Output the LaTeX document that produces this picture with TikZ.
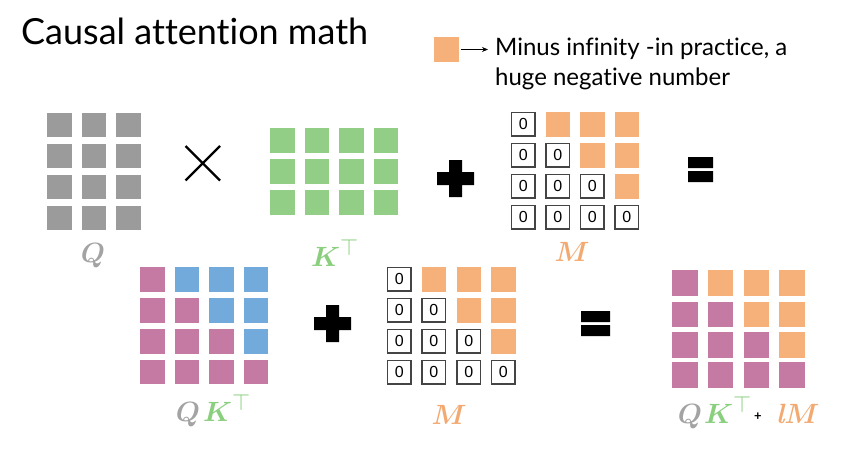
\documentclass[tikz,border=0pt]{standalone}
\usepackage{amsmath,bm,graphicx}
\usepackage[no-math]{fontspec}
\setmainfont{Lato}[Ligatures=NoCommon]
\newfontfamily\zerofont{Liberation Sans}
\newfontfamily\lmfont{Latin Modern Roman}
\usetikzlibrary{arrows.meta}
\definecolor{qgray}{HTML}{9B9B9B}
\definecolor{kgreen}{HTML}{93CE86}
\definecolor{morange}{HTML}{F6B07A}
\definecolor{ppink}{HTML}{C47AA2}
\definecolor{pblue}{HTML}{72AADB}
\definecolor{qlab}{HTML}{A3A3A3}
\definecolor{klab}{HTML}{8ACF7E}
\definecolor{mlab}{HTML}{F3AA72}
\definecolor{zgray}{HTML}{444444}
\newcommand{\mylab}[1]{\scalebox{1.12}{#1}}
\begin{document}
\begin{tikzpicture}[x=1pt,y=-1pt,
  cell/.style={anchor=north west, minimum size=24.5pt, inner sep=0pt, outer sep=0pt},
  rcell/.style={anchor=north west, minimum size=25.5pt, inner sep=0pt, outer sep=0pt},
  zbox/.style={anchor=north west, minimum size=23.5pt, inner sep=0pt, outer sep=0pt,
     draw=zgray, line width=1.1pt, fill=white, font=\zerofont\fontsize{16}{16}\selectfont},
  lab/.style={inner sep=0pt, anchor=base, font=\fontsize{24.88}{28}\selectfont},
  txt/.style={inner sep=0pt, anchor=base west, font=\fontsize{24}{28}\selectfont}]
\useasboundingbox (0,0) rectangle (861,452);
\fill[white] (0,0) rectangle (861,452);
% title
\node[inner sep=0pt, anchor=base west, font=\fontsize{36}{40}\selectfont] (title) at (21,45) {Causal attention math};
% legend
\node[cell, fill=morange, minimum size=25pt] (leg) at (434,37) {};
\node[txt] (leg1) at (495,56) {Minus infinity -in practice, a};
\node[txt] (leg2) at (495,85) {huge negative number};
\draw[-{Stealth[length=6pt,width=5pt]}, line width=0.9pt, shorten <=1.5pt, shorten >=7pt] (leg.east) -- (leg.east -| leg1.west);
% Q
\foreach \r/\y in {1/112.5,2/143.5,3/174.5,4/205.5}
  \foreach \c/\x in {1/47,2/81.5,3/116}
    \node[cell, fill=qgray] (q-\r-\c) at (\x,\y) {};
\node[lab, text=qlab] (qlabel) at (93,262) {\mylab{$\bm{Q}$}};
% times
\draw[line width=2.4pt] (185.5,146) -- (220,180.5) (185.5,180.5) -- (220,146);
% K^T
\foreach \r/\y in {1/128,2/159,3/190}
  \foreach \c/\x in {1/270,2/304.5,3/339,4/373.5}
    \node[cell, fill=kgreen] (k-\r-\c) at (\x,\y) {};
\node[lab, text=klab, anchor=base west] (klabel) at (311,266) {\mylab{$\bm{K}^{\top}$}};
% plus top
\fill (437,172) rectangle (474,185) (449,160) rectangle (462,197);
% M top
\foreach \r/\y in {1/112,2/143,3/174,4/205}
  \foreach \c/\x in {1/511,2/545.5,3/580,4/614.5}
  {\ifnum\c>\r
     \node[cell, fill=morange] (m-\r-\c) at (\x,\y) {};
   \else
     \node[zbox] (m-\r-\c) at (\x+0.5,\y+0.5) {0};
   \fi}
\node[lab, text=mlab] (mlabel) at (572,261) {\mylab{$\bm{M}$}};
% equals top
\fill (688,157) rectangle (713,168) (688,171) rectangle (713,182);
% QK^T
\foreach \r/\y in {1/267,2/298,3/329,4/359.5}
  \foreach \c/\x in {1/140,2/174.5,3/209,4/243.5}
  {\ifnum\c>\r
     \node[cell, fill=pblue] (s-\r-\c) at (\x,\y) {};
   \else
     \node[cell, fill=ppink] (s-\r-\c) at (\x,\y) {};
   \fi}
\node[lab, text=qlab] (qlabel2) at (188,421) {\mylab{$\bm{Q}$}};
\node[lab, text=klab, anchor=base west] (klabel2) at (203,421) {\mylab{$\bm{K}^{\top}$}};
% plus bottom
\fill (314,317) rectangle (351,330) (326,305) rectangle (339,342);
% M bottom
\foreach \r/\y in {1/267,2/298,3/329,4/360}
  \foreach \c/\x in {1/387,2/421.5,3/456.5,4/491}
  {\ifnum\c>\r
     \node[cell, fill=morange] (n-\r-\c) at (\x,\y) {};
   \else
     \node[zbox] (n-\r-\c) at (\x+0.5,\y+0.5) {0};
   \fi}
\node[lab, text=mlab] (mlabel2) at (449,424) {\mylab{$\bm{M}$}};
% equals bottom
\fill (581,311) rectangle (610,322) (581,325) rectangle (610,336);
% result
\foreach \r/\y in {1/270,2/301.5,3/332,4/362}
  \foreach \c/\x in {1/672,2/707.5,3/743.5,4/779}
  {\ifnum\c>\r
     \node[rcell, fill=morange] (o-\r-\c) at (\x,\y) {};
   \else
     \node[rcell, fill=ppink] (o-\r-\c) at (\x,\y) {};
   \fi}
\node[lab, text=qlab] (qlabel3) at (690,423) {\mylab{$\bm{Q}$}};
\node[lab, text=klab, anchor=base west] (klabel3) at (704,423) {\mylab{$\bm{K}^{\top}$}};
\node[inner sep=0pt, font=\bfseries\fontsize{13}{13}\selectfont] (plus3) at (758,417) {+};
\node[lab, text=mlab, anchor=base west] (lmlabel) at (776,423) {\mylab{{\lmfont\bfseries\itshape l}$\bm{M}$}};
\end{tikzpicture}
\end{document}
